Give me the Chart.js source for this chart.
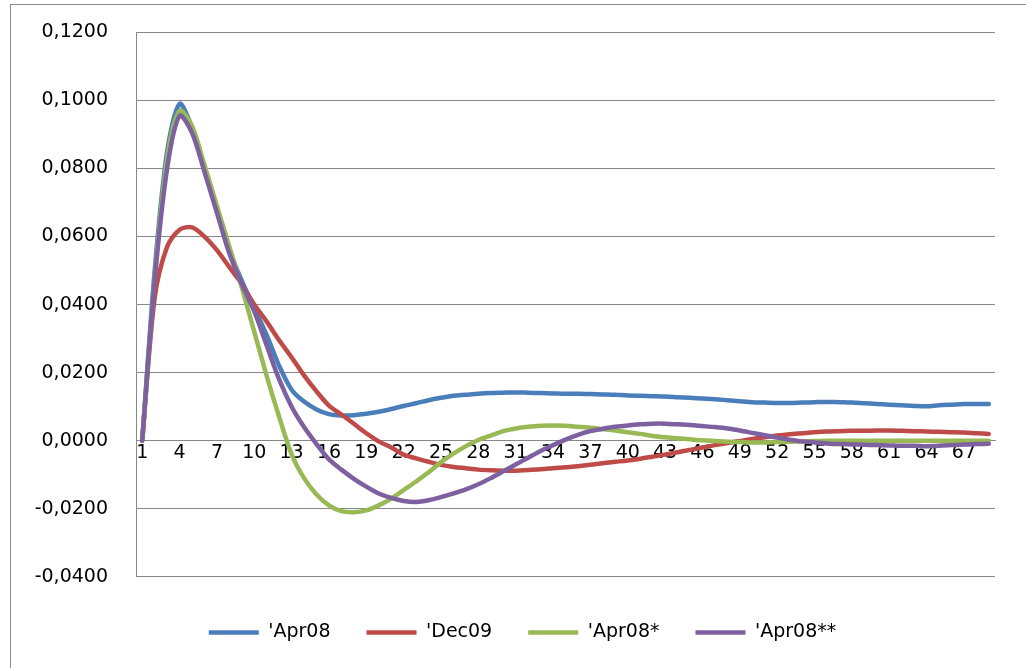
<!DOCTYPE html>
<html>
<head>
<meta charset="utf-8">
<script src="https://cdn.jsdelivr.net/npm/chart.js@4.4.0/dist/chart.umd.min.js"></script>
<style>
  body { margin: 0; background: #fff; overflow: hidden; }
  #frame { position: absolute; left: 10px; top: 4px; width: 1100px; height: 700px;
           border-left: 1px solid #8a8a8a; border-top: 1px solid #8a8a8a; }
  #wrap { position: absolute; left: 0; top: -7px; width: 1026px; height: 675px; }
</style>
</head>
<body>
<div id="frame"></div>
<div id="wrap"><canvas id="myChart"></canvas></div>
<script>
// periods 1..69
const periods = Array.from({ length: 69 }, (_, i) => String(i + 1));

const apr08 = [
  0, 0.050, 0.085, 0.099, 0.092, 0.080, 0.068, 0.056, 0.047, 0.039,
  0.031, 0.022, 0.015, 0.0115, 0.0092, 0.0078, 0.0074, 0.0075, 0.0079, 0.0085,
  0.0093, 0.0102, 0.0110, 0.0119, 0.0126, 0.0132, 0.0135, 0.0138, 0.0140, 0.0141,
  0.0142, 0.0141, 0.0140, 0.0139, 0.0138, 0.0138, 0.0137, 0.0136, 0.0135, 0.0133,
  0.0132, 0.0131, 0.0130, 0.0128, 0.0126, 0.0124, 0.0122, 0.0119, 0.0116, 0.0113,
  0.0112, 0.0111, 0.0111, 0.0112, 0.0113, 0.0114, 0.0113, 0.0112, 0.0110, 0.0108,
  0.0106, 0.0104, 0.0102, 0.0101, 0.0104, 0.0106, 0.0108, 0.0108, 0.0108
];
const dec09 = [
  0, 0.042, 0.057, 0.062, 0.0627, 0.060, 0.056, 0.051, 0.046, 0.040,
  0.035, 0.0295, 0.0245, 0.0192, 0.0145, 0.0103, 0.0077, 0.0050, 0.0022, -0.0002,
  -0.0020, -0.0041, -0.0052, -0.0062, -0.0071, -0.0077, -0.0081, -0.0085, -0.0087, -0.0088,
  -0.0088, -0.0086, -0.0084, -0.0081, -0.0078, -0.0075, -0.0071, -0.0066, -0.0062, -0.0058,
  -0.0053, -0.0047, -0.0041, -0.0034, -0.0027, -0.0020, -0.0013, -0.0007, -0.0001, 0.0005,
  0.0010, 0.0015, 0.0019, 0.0022, 0.0025, 0.0027, 0.0028, 0.0029, 0.0029, 0.0030,
  0.0030, 0.0029, 0.0028, 0.0027, 0.0026, 0.0025, 0.0024, 0.0022, 0.0020
];
const apr08s = [
  0, 0.048, 0.083, 0.097, 0.0925, 0.081, 0.069, 0.057, 0.045, 0.032,
  0.019, 0.007, -0.004, -0.011, -0.0158, -0.019, -0.0207, -0.021, -0.0205, -0.019,
  -0.017, -0.0145, -0.012, -0.0093, -0.0063, -0.0038, -0.0016, 0.0002, 0.0015, 0.0028,
  0.0036, 0.0041, 0.0044, 0.0045, 0.0044, 0.0041, 0.0038, 0.0034, 0.0030, 0.0025,
  0.0020, 0.0014, 0.0010, 0.0007, 0.0004, 0.0001, -0.0001, -0.0003, -0.0004, -0.0005,
  -0.0005, -0.0004, -0.0003, -0.0002, -0.0001, 0, 0, 0, 0, 0,
  0, 0, 0, 0, 0, 0, 0, 0, 0
];
const apr08ss = [
  0, 0.047, 0.080, 0.0955, 0.0905, 0.079, 0.067, 0.055, 0.046, 0.038,
  0.028, 0.018, 0.010, 0.004, -0.001, -0.0055, -0.0085, -0.0112, -0.0135, -0.0155,
  -0.0168, -0.0177, -0.0180, -0.0175, -0.0166, -0.0155, -0.0143, -0.0128, -0.0110, -0.0090,
  -0.0070, -0.0050, -0.0030, -0.0013, 0.0003, 0.0017, 0.0028, 0.0035, 0.0041, 0.0045,
  0.0048, 0.0050, 0.0050, 0.0048, 0.0046, 0.0043, 0.0040, 0.0036, 0.0030, 0.0023,
  0.0016, 0.0009, 0.0003, -0.0002, -0.0005, -0.0008, -0.0010, -0.0011, -0.0012, -0.0013,
  -0.0014, -0.0015, -0.0015, -0.0016, -0.0015, -0.0013, -0.0011, -0.0010, -0.0009
];

const seriesNames = ["'Apr08", "'Dec09", "'Apr08*", "'Apr08**"];
const seriesColors = ['#4A7EBB', '#BE4B48', '#98B954', '#7D60A0'];
const seriesData = [apr08, dec09, apr08s, apr08ss];

const font = { family: 'DejaVu Sans', size: 19 };
const gridColor = '#888888';

// nudge the legend right so it sits centred like the original
const legendShift = {
  id: 'legendShift',
  afterLayout(chart) {
    chart.legend.left += 25;
    chart.legend.right += 25;
  }
};

const ctx = document.getElementById('myChart').getContext('2d');
new Chart(ctx, {
  type: 'line',
  data: {
    labels: periods,
    datasets: seriesData.map((d, i) => ({
      label: seriesNames[i],
      data: d,
      borderColor: seriesColors[i],
      backgroundColor: seriesColors[i],
      borderWidth: 4.5,
      borderCapStyle: 'round',
      borderJoinStyle: 'round',
      pointRadius: 0,
      tension: 0.3,
      order: 4 - i
    }))
  },
  options: {
    responsive: true,
    maintainAspectRatio: false,
    animation: false,
    layout: { padding: { left: 0, right: 31, top: 18, bottom: 16 } },
    scales: {
      x: {
        position: { y: 0 },
        offset: true,
        grid: { display: false, drawTicks: false },
        border: { display: true, color: gridColor },
        ticks: {
          autoSkip: false,
          maxRotation: 0,
          padding: 1,
          color: '#000',
          font: font,
          callback: function(v, i) { return i % 3 === 0 ? periods[i] : ''; }
        }
      },
      y: {
        min: -0.04,
        max: 0.12,
        afterFit: function(scale) { scale.width = 136; },
        grid: { color: gridColor, drawTicks: false },
        border: { display: true, color: gridColor },
        ticks: {
          stepSize: 0.02,
          padding: 28,
          color: '#000',
          font: font,
          callback: function(v) {
            if (Math.abs(v) < 1e-9) return '0,0000';
            return v.toFixed(4).replace('.', ',');
          }
        }
      }
    },
    plugins: {
      tooltip: { enabled: false },
      legend: {
        position: 'bottom',
        title: { display: true, text: ' ', font: { size: 1 }, padding: { top: 0, bottom: 9 } },
        labels: {
          usePointStyle: true,
          pointStyle: 'line',
          pointStyleWidth: 50,
          padding: 36,
          color: '#000',
          font: font,
          sort: (a, b) => a.datasetIndex - b.datasetIndex
        }
      }
    }
  },
  plugins: [legendShift]
});
</script>
</body>
</html>
